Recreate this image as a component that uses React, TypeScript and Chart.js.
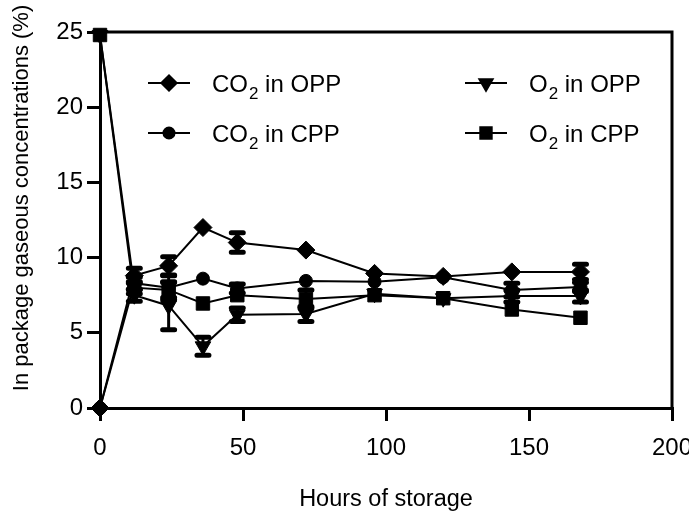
import React, { useEffect, useRef } from "react";
import { Chart, registerables } from "chart.js";
import { drawPoint } from "chart.js/helpers";

Chart.register(...registerables);

// ---- data ----
const hours = [0, 12, 24, 36, 48, 72, 96, 120, 144, 168];

const co2InOpp = [0, 8.8, 9.45, 12.0, 11.0, 10.5, 8.95, 8.75, 9.05, 9.05];
const co2InOppErr = [0, 0.5, 0.6, 0.2, 0.65, 0.2, 0.2, 0.2, 0.2, 0.5];

const co2InCpp = [0, 8.3, 8.0, 8.6, 7.95, 8.45, 8.4, 8.7, 7.85, 8.05];
const co2InCppErr = [0, 0.4, 0.8, 0.2, 0.3, 0.2, 0.2, 0.2, 0.45, 0.3];

const o2InOpp = [24.8, 7.5, 6.8, 4.1, 6.2, 6.25, 7.6, 7.3, 7.45, 7.45];
const o2InOppErr = [0, 0.4, 1.6, 0.6, 0.45, 0.5, 0.2, 0.2, 0.4, 0.4];

const o2InCpp = [24.8, 8.0, 7.85, 6.95, 7.5, 7.25, 7.5, 7.3, 6.55, 6.0];
const o2InCppErr = [0, 0.4, 0.5, 0.2, 0.2, 0.6, 0.3, 0.2, 0.2, 0.2];

// label parts: main, subscript, rest
const seriesNames = [
  ["CO", "2", " in OPP"],
  ["CO", "2", " in CPP"],
  ["O", "2", " in OPP"],
  ["O", "2", " in CPP"],
];

const xAxisTitle = "Hours of storage";
const yAxisTitle = "In package gaseous concentrations (%)";
const xMin = 0, xMax = 200, xStep = 50;
const yMin = 0, yMax = 25, yStep = 5;

const FONT = "Arial, 'Liberation Sans', Helvetica, sans-serif";

const errorBarPlugin = {
  id: "errorBars",
  beforeDatasetsDraw(chart: any) {
    const ctx = chart.ctx;
    const ys = chart.scales.y;
    ctx.save();
    ctx.strokeStyle = "#000";
    chart.data.datasets.forEach((ds: any, i: number) => {
      const meta = chart.getDatasetMeta(i);
      ds.errors.forEach((e: number, j: number) => {
        if (!e) return;
        const v = ds.data[j].y;
        const x = meta.data[j].x;
        const yc = ys.getPixelForValue(v);
        const yt = ys.getPixelForValue(v + e);
        const yb = ys.getPixelForValue(v - e);
        // bars shorter than the symbol are hidden behind it
        if (yc - yt < ds.pointRadius * 0.55) return;
        ctx.lineCap = "butt";
        ctx.lineWidth = 3;
        ctx.beginPath();
        ctx.moveTo(x, yt);
        ctx.lineTo(x, yb);
        ctx.stroke();
        ctx.lineCap = "round";
        ctx.lineWidth = 5;
        ctx.beginPath();
        ctx.moveTo(x - 6, yt);
        ctx.lineTo(x + 6, yt);
        ctx.moveTo(x - 6, yb);
        ctx.lineTo(x + 6, yb);
        ctx.stroke();
      });
    });
    ctx.restore();
  },
};

const framePlugin = {
  id: "frame",
  afterDraw(chart: any) {
    const { ctx, chartArea } = chart;
    const { left, right, top, bottom } = chartArea;
    ctx.save();
    ctx.strokeStyle = "#000";
    ctx.lineWidth = 3;
    ctx.beginPath();
    ctx.moveTo(left - 1.5, top);
    ctx.lineTo(right, top);
    ctx.lineTo(right, bottom + 1.5);
    ctx.stroke();
    ctx.restore();
  },
};

const legendPos = [
  { x: 148, y: 83 },
  { x: 148, y: 133 },
  { x: 465, y: 83 },
  { x: 465, y: 133 },
];

const legendPlugin = {
  id: "customLegend",
  afterDraw(chart: any) {
    const ctx = chart.ctx;
    ctx.save();
    chart.data.datasets.forEach((ds: any, i: number) => {
      const p = legendPos[i];
      ctx.strokeStyle = "#000";
      ctx.lineWidth = 2;
      ctx.beginPath();
      ctx.moveTo(p.x, p.y);
      ctx.lineTo(p.x + 42, p.y);
      ctx.stroke();
      ctx.fillStyle = "#000";
      drawPoint(
        ctx,
        {
          pointStyle: ds.pointStyle,
          rotation: ds.pointRotation || 0,
          radius: ds.pointRadius * 0.85,
          borderWidth: 1,
        },
        p.x + 21,
        p.y
      );
      const [main, sub, rest] = seriesNames[i];
      let tx = p.x + 64;
      const base = p.y + 8.5;
      ctx.textAlign = "left";
      ctx.textBaseline = "alphabetic";
      ctx.font = `24px ${FONT}`;
      ctx.fillText(main, tx, base);
      tx += ctx.measureText(main).width;
      ctx.font = `17px ${FONT}`;
      ctx.fillText(sub, tx + 1, base + 7);
      tx += ctx.measureText(sub).width + 1;
      ctx.font = `24px ${FONT}`;
      ctx.fillText(rest, tx, base);
    });
    ctx.restore();
  },
};

const titlePlugin = {
  id: "axisTitles",
  afterDraw(chart: any) {
    const { ctx, chartArea } = chart;
    ctx.save();
    ctx.fillStyle = "#000";
    ctx.font = `23.5px ${FONT}`;
    ctx.textAlign = "center";
    ctx.textBaseline = "alphabetic";
    ctx.fillText(xAxisTitle, (chartArea.left + chartArea.right) / 2, 506);
    ctx.translate(22, 198);
    ctx.rotate(-Math.PI / 2);
    ctx.font = `22px ${FONT}`;
    ctx.textBaseline = "middle";
    ctx.fillText(yAxisTitle, 0, 0);
    ctx.restore();
  },
};

function makeDataset(label: string, values: number[], errors: number[], style: string, radius: number, rotation = 0) {
  return {
    label,
    data: hours.map((h, i) => ({ x: h, y: values[i] })),
    errors,
    borderColor: "#000",
    backgroundColor: "#000",
    borderWidth: 2,
    pointStyle: style,
    pointRotation: rotation,
    pointRadius: radius,
    pointBorderWidth: 1,
    pointBackgroundColor: "#000",
    pointBorderColor: "#000",
    tension: 0,
    clip: false,
  };
}

export default function App() {
  const ref = useRef<HTMLCanvasElement>(null);
  useEffect(() => {
    if (!ref.current) return;
    const chart = new Chart(ref.current, {
      type: "line",
      data: {
        datasets: [
          makeDataset("CO₂ in OPP", co2InOpp, co2InOppErr, "rectRot", 9),
          makeDataset("CO₂ in CPP", co2InCpp, co2InCppErr, "circle", 6.5),
          makeDataset("O₂ in OPP", o2InOpp, o2InOppErr, "triangle", 9, 180),
          makeDataset("O₂ in CPP", o2InCpp, o2InCppErr, "rect", 9.5),
        ] as any,
      },
      options: {
        animation: false,
        responsive: false,
        devicePixelRatio: 1,
        events: [],
        layout: { padding: { top: 32, right: 17, bottom: 0, left: 0 } },
        plugins: { legend: { display: false }, tooltip: { enabled: false } },
        scales: {
          x: {
            type: "linear",
            min: xMin,
            max: xMax,
            ticks: { stepSize: xStep, color: "#000", font: { family: FONT, size: 24 }, padding: 13, maxRotation: 0, autoSkip: false },
            grid: { display: true, drawOnChartArea: false, drawTicks: true, tickLength: 13, tickWidth: 3, lineWidth: 3, tickColor: "#000", color: "#000" },
            border: { display: true, width: 3, color: "#000" },
            afterFit: (s: any) => { s.height = 104; s.paddingLeft = 0; s.paddingRight = 0; },
          },
          y: {
            type: "linear",
            min: yMin,
            max: yMax,
            ticks: { stepSize: yStep, color: "#000", font: { family: FONT, size: 24 }, padding: 4, autoSkip: false },
            grid: { display: true, drawOnChartArea: false, drawTicks: true, tickLength: 13, tickWidth: 3, lineWidth: 3, tickColor: "#000", color: "#000" },
            border: { display: true, width: 3, color: "#000" },
            afterFit: (s: any) => { s.width = 100; s.paddingTop = 0; s.paddingBottom = 0; },
          },
        },
      } as any,
      plugins: [errorBarPlugin, framePlugin, legendPlugin, titlePlugin],
    });
    return () => chart.destroy();
  }, []);
  return (
    <div style={{ position: "fixed", left: 0, top: 0, width: 689, height: 512, background: "#fff" }}>
      <canvas ref={ref} width={689} height={512} style={{ display: "block" }} />
    </div>
  );
}
